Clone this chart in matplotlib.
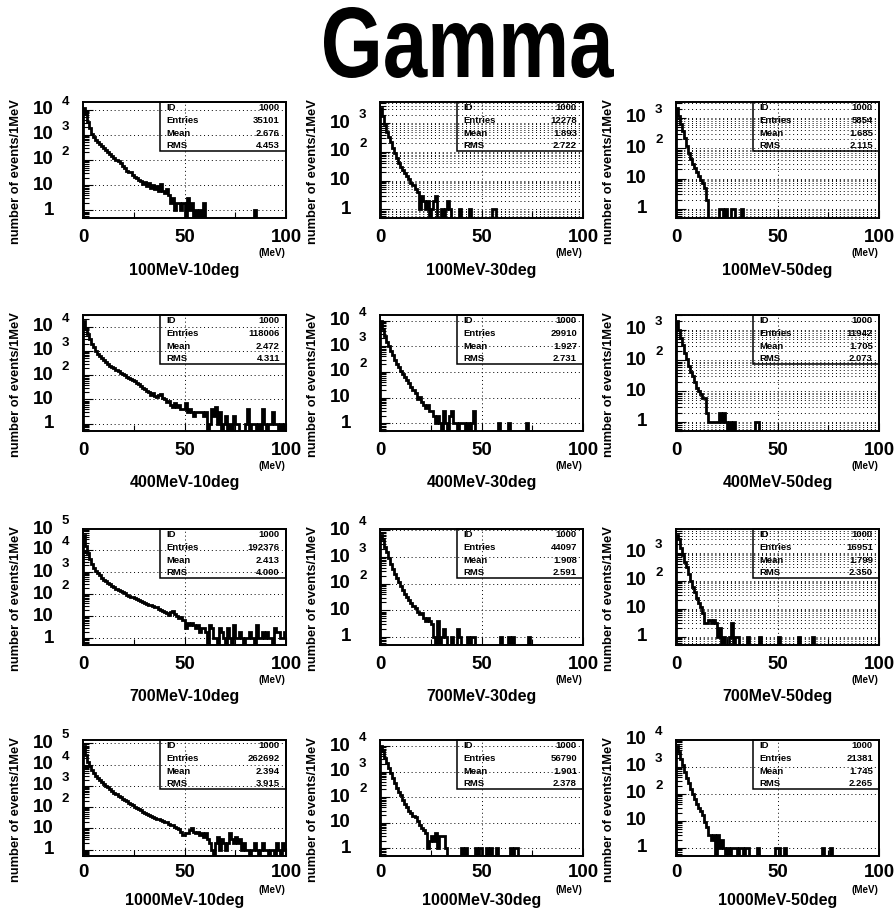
import matplotlib
matplotlib.use("Agg")
import matplotlib.pyplot as plt
import numpy as np
from matplotlib.ticker import FixedLocator, LogLocator, NullFormatter
from matplotlib.transforms import offset_copy, Affine2D, IdentityTransform
from matplotlib.textpath import TextPath
from matplotlib.patches import PathPatch, Rectangle
from matplotlib.font_manager import FontProperties

plt.rcParams['font.family'] = ['Liberation Sans', 'DejaVu Sans']
plt.rcParams['font.weight'] = 'bold'

W, H = 894, 910

# energy deposit histograms, 1 MeV bins from 0 to 100 MeV
h_100_10 = [12000, 6500, 3200, 1900, 1100, 800, 620, 500, 420, 350,
            290, 240, 200, 170, 140, 120, 100, 90, 75, 60,
            50, 38, 34, 32, 26, 22, 20, 16, 15, 11,
            13, 9, 12, 8, 10, 7, 9, 6, 11, 6,
            5, 7, 4, 2, 3, 1, 2, 2, 1, 2,
            0, 3, 1, 2, 0, 1, 0, 1, 0, 2]
t_100_10 = {84: 1}

h_100_30 = [3500, 1800, 900, 500, 320, 220, 140, 90, 60, 42,
            30, 24, 18, 14, 11, 8, 7, 5, 4, 1,
            3, 2, 1, 2, 0, 1, 2, 3, 0, 0,
            1, 0, 1, 2, 1]
t_100_30 = {39: 1, 44: 1, 55: 1, 56: 1}

h_100_50 = [2200, 1200, 650, 380, 210, 120, 70, 45, 30, 22,
            16, 12, 9, 7, 5, 2]
t_100_50 = {21: 1, 22: 1, 24: 1, 27: 1, 28: 1, 32: 1}

h_400_10 = [18000, 9000, 5000, 3000, 2000, 1400, 1000, 780, 600, 500,
            420, 350, 300, 250, 215, 190, 165, 145, 128, 112,
            100, 88, 78, 70, 63, 57, 48, 42, 36, 31,
            27, 23, 20, 16, 18, 14, 13, 16, 17, 12,
            10, 8, 9, 6, 5, 7, 5, 6, 4, 4,
            7, 3, 4, 3, 2, 3, 3, 3, 3, 2,
            3, 0, 1, 4, 2, 5, 1, 3, 0, 1,
            2, 0, 1, 0, 2, 1, 1, 0, 0, 0,
            1, 4, 0, 1, 1, 0, 1, 0, 4, 1,
            0, 1, 1, 3, 1, 1, 0, 1, 0, 1]
t_400_10 = {}

h_400_30 = [10000, 4500, 2500, 1500, 1000, 650, 450, 300, 210, 150,
            110, 85, 65, 48, 37, 27, 20, 15, 9, 11,
            7, 5, 4, 5, 3, 3, 2, 1, 2, 1,
            0, 3, 1, 0, 2, 3, 1, 1, 0, 1,
            1, 1, 0, 1, 0, 1, 3]
t_400_30 = {58: 1, 63: 1, 72: 1}

h_400_50 = [2000, 1000, 520, 320, 180, 110, 65, 42, 30, 20,
            13, 10, 8, 6, 6, 2, 1, 1, 1, 1,
            1, 2, 1, 2, 1, 0, 1, 0, 1]
t_400_50 = {39: 1, 40: 1}

h_700_10 = [50000, 15000, 7000, 3800, 2400, 1600, 1150, 880, 700, 560,
            460, 390, 330, 280, 240, 205, 180, 160, 140, 122,
            108, 96, 86, 78, 72, 66, 60, 54, 48, 44,
            40, 36, 33, 31, 29, 27, 26, 22, 20, 17,
            15, 14, 12, 16, 18, 13, 10, 8, 9, 7,
            3, 5, 4, 5, 4, 3, 4, 2, 3, 3,
            2, 0, 4, 3, 1, 1, 0, 3, 2, 1,
            0, 3, 1, 0, 4, 1, 1, 2, 1, 0,
            1, 1, 2, 1, 0, 4, 1, 1, 2, 1,
            2, 1, 1, 0, 3, 2, 2, 1, 1, 2]
t_700_10 = {}

h_700_30 = [7000, 4800, 2400, 1500, 900, 560, 360, 240, 160, 115,
            80, 56, 42, 32, 24, 19, 15, 12, 9, 7,
            8, 5, 4, 5, 4, 3, 1, 0, 4, 0,
            1, 2, 1, 0, 0, 1, 0, 0, 2, 1]
t_700_30 = {43: 1, 45: 1, 46: 1, 59: 1, 63: 1, 65: 1, 73: 1}

h_700_50 = [4500, 3200, 1500, 800, 480, 300, 170, 100, 62, 40,
            24, 16, 11, 7, 3, 3, 4, 3, 4, 3,
            1, 2, 0, 1, 0, 0, 1, 3, 0, 1, 1]
t_700_50 = {35: 1, 41: 1, 50: 1, 60: 1, 67: 1}

h_1000_10 = [80000, 30000, 14000, 8500, 5500, 4000, 3000, 2300, 1850, 1500,
             1200, 1000, 850, 700, 580, 480, 400, 340, 290, 250,
             215, 185, 160, 140, 120, 105, 90, 80, 70, 62,
             55, 50, 44, 40, 36, 32, 29, 27, 24, 22,
             20, 19, 16, 14, 15, 12, 10, 9, 7, 5,
             6, 6, 8, 10, 7, 6, 7, 5, 6, 4,
             6, 3, 2, 1, 0, 2, 4, 1, 3, 2,
             1, 2, 6, 3, 2, 4, 2, 3, 1, 2,
             1, 1, 0, 1, 2, 1, 0, 1, 2, 1,
             1, 0, 1, 1, 0, 2, 1, 0, 2, 1]
t_1000_10 = {}

h_1000_30 = [10500, 6500, 3500, 2200, 1400, 900, 560, 350, 230, 160,
             120, 80, 55, 40, 30, 23, 19, 17, 12, 8,
             6, 5, 4, 1, 2, 3, 2, 4, 1, 3,
             3, 3, 1]
t_1000_30 = {40: 1, 42: 1, 47: 1, 49: 1, 52: 1, 54: 1, 57: 1, 64: 1, 66: 1, 67: 1}

h_1000_50 = [6000, 3600, 1900, 1100, 650, 380, 240, 150, 95, 62,
             42, 30, 22, 16, 9, 6, 3, 2, 3, 0,
             3, 1, 2, 1, 0, 1, 0, 1, 1, 1,
             0, 1, 1, 0, 1, 1]
t_1000_50 = {40: 1, 49: 1, 50: 1, 53: 1, 72: 1, 76: 1}

heads = [h_100_10, h_100_30, h_100_50, h_400_10, h_400_30, h_400_50,
         h_700_10, h_700_30, h_700_50, h_1000_10, h_1000_30, h_1000_50]
tails = [t_100_10, t_100_30, t_100_50, t_400_10, t_400_30, t_400_50,
         t_700_10, t_700_30, t_700_50, t_1000_10, t_1000_30, t_1000_50]

titles = ['100MeV-10deg', '100MeV-30deg', '100MeV-50deg',
          '400MeV-10deg', '400MeV-30deg', '400MeV-50deg',
          '700MeV-10deg', '700MeV-30deg', '700MeV-50deg',
          '1000MeV-10deg', '1000MeV-30deg', '1000MeV-50deg']
entries = ['35101', '12278', '5854', '118006', '29910', '11942',
           '192376', '44097', '16951', '262692', '56790', '21381']
means = ['2.676', '1.893', '1.685', '2.472', '1.927', '1.705',
         '2.413', '1.908', '1.799', '2.394', '1.901', '1.745']
rmss = ['4.453', '2.722', '2.115', '4.311', '2.731', '2.073',
        '4.000', '2.591', '2.350', '3.915', '2.378', '2.265']
# panels drawn with the fine (minor) grid as well
fine_grid = [1, 2, 5, 8]

col_left = [83, 380, 676]
row_top = [102, 315, 529, 740]
ax_w, ax_h = 203, 116
# tick pad, x title and (MeV) offsets below each row of axes
tick_pad = [8, 8, 8, 6]
title_off = [52, 52, 52, 45]
unit_off = [35, 35, 35, 34]

fig = plt.figure(figsize=(W / 100, H / 100), dpi=100)

# big title, stretched vertically like the PAW font
fp = FontProperties(family='Liberation Sans', weight='bold')
tp = TextPath((0, 0), 'Gamma', size=100, prop=fp)
bb = tp.get_extents()
tr = (Affine2D().translate(-bb.x0, -bb.y0)
      .scale(290 / bb.width, 71 / bb.height).translate(324, H - 78))
fig.add_artist(PathPatch(tr.transform_path(tp), transform=IdentityTransform(),
                         facecolor='black', edgecolor='none'))

edges = np.arange(101)
ymin = 0.5
floor = 1e-3
dot = (0, (1, 3))

for i in range(12):
    r, c = divmod(i, 3)
    x0 = col_left[c]
    y0 = row_top[r]
    ax = fig.add_axes([x0 / W, 1 - (y0 + ax_h) / H, ax_w / W, ax_h / H])

    counts = np.zeros(100)
    counts[:len(heads[i])] = heads[i]
    for k, v in tails[i].items():
        counts[k] = v

    lmax = np.log10(counts.max())
    ltop = lmax + 0.05 * (lmax - np.log10(ymin))
    ax.set_yscale('log')
    ax.set_xlim(0, 100)
    ax.set_ylim(ymin, 10 ** ltop)

    vals = np.where(counts > 0, counts, floor)
    ax.stairs(vals, edges, baseline=floor, color='black', lw=2.0,
              joinstyle='miter', zorder=3)

    for s in ax.spines.values():
        s.set_linewidth(1.4)

    ax.xaxis.set_major_locator(FixedLocator([0, 50, 100]))
    ax.xaxis.set_minor_locator(FixedLocator([25, 75]))
    ax.yaxis.set_major_locator(LogLocator(base=10, numticks=20))
    ax.yaxis.set_minor_locator(LogLocator(base=10, subs=np.arange(2, 10), numticks=20))
    ax.yaxis.set_minor_formatter(NullFormatter())
    ax.tick_params(axis='y', which='major', direction='in', length=7, width=0.8,
                   labelleft=False)
    ax.tick_params(axis='y', which='minor', direction='in', length=4, width=0.8)
    ax.tick_params(axis='x', which='major', direction='in', length=6, width=0.8,
                   labelsize=13.5, pad=tick_pad[r])
    ax.tick_params(axis='x', which='minor', direction='in', length=4, width=0.8)
    for lab in ax.get_xticklabels():
        lab.set_fontweight('bold')

    ax.grid(True, which='major', linestyle=dot, color='black', lw=0.7)
    if i in fine_grid:
        ax.grid(True, which='minor', axis='y', linestyle=dot, color='black', lw=0.7)
    ax.set_axisbelow(True)

    # PAW-style decade labels: 1, 10, 10 with raised exponent
    ytr = ax.get_yaxis_transform()
    for d in range(0, 7):
        if d > ltop + 0.08:
            break
        yv = min(10.0 ** d, 10 ** ltop)
        base = '1' if d == 0 else '10'
        ax.text(0, yv, base, transform=offset_copy(ytr, fig=fig, x=-29, y=0, units='dots'),
                ha='right', va='center', fontsize=13.5, fontweight='bold')
        if d >= 2:
            ax.text(0, yv, str(d), transform=offset_copy(ytr, fig=fig, x=-21, y=8, units='dots'),
                    ha='left', va='center', fontsize=9.5, fontweight='bold')

    # statistics box
    bx, bh = 0.38, 0.42
    ax.add_patch(Rectangle((bx, 1 - bh), 1 - bx, bh, transform=ax.transAxes,
                           fill=False, lw=1.1, edgecolor='black', zorder=5, clip_on=False))
    rows = [('ID', '1000'), ('Entries', entries[i]), ('Mean', means[i]), ('RMS', rmss[i])]
    for (name, val), f in zip(rows, [0.12, 0.38, 0.64, 0.89]):
        yy = 1 - bh * f
        ax.text(bx + 0.03, yy, name, transform=ax.transAxes, ha='left', va='center',
                fontsize=6.8, fontweight='bold', zorder=6)
        ax.text(0.97, yy, val, transform=ax.transAxes, ha='right', va='center',
                fontsize=6.8, fontweight='bold', zorder=6)

    fig.text((x0 - 67) / W, 1 - (y0 + ax_h / 2 + 12) / H, 'number of events/1MeV',
             rotation=90, ha='center', va='center', fontsize=9.3, fontweight='bold')
    fig.text((x0 + ax_w / 2) / W, 1 - (y0 + ax_h + title_off[r]) / H, titles[i],
             ha='center', va='center', fontsize=11.5, fontweight='bold')
    fig.text((x0 + ax_w - 14) / W, 1 - (y0 + ax_h + unit_off[r]) / H, '(MeV)',
             ha='center', va='center', fontsize=7, fontweight='bold')

fig.savefig('out.png', dpi=100)
